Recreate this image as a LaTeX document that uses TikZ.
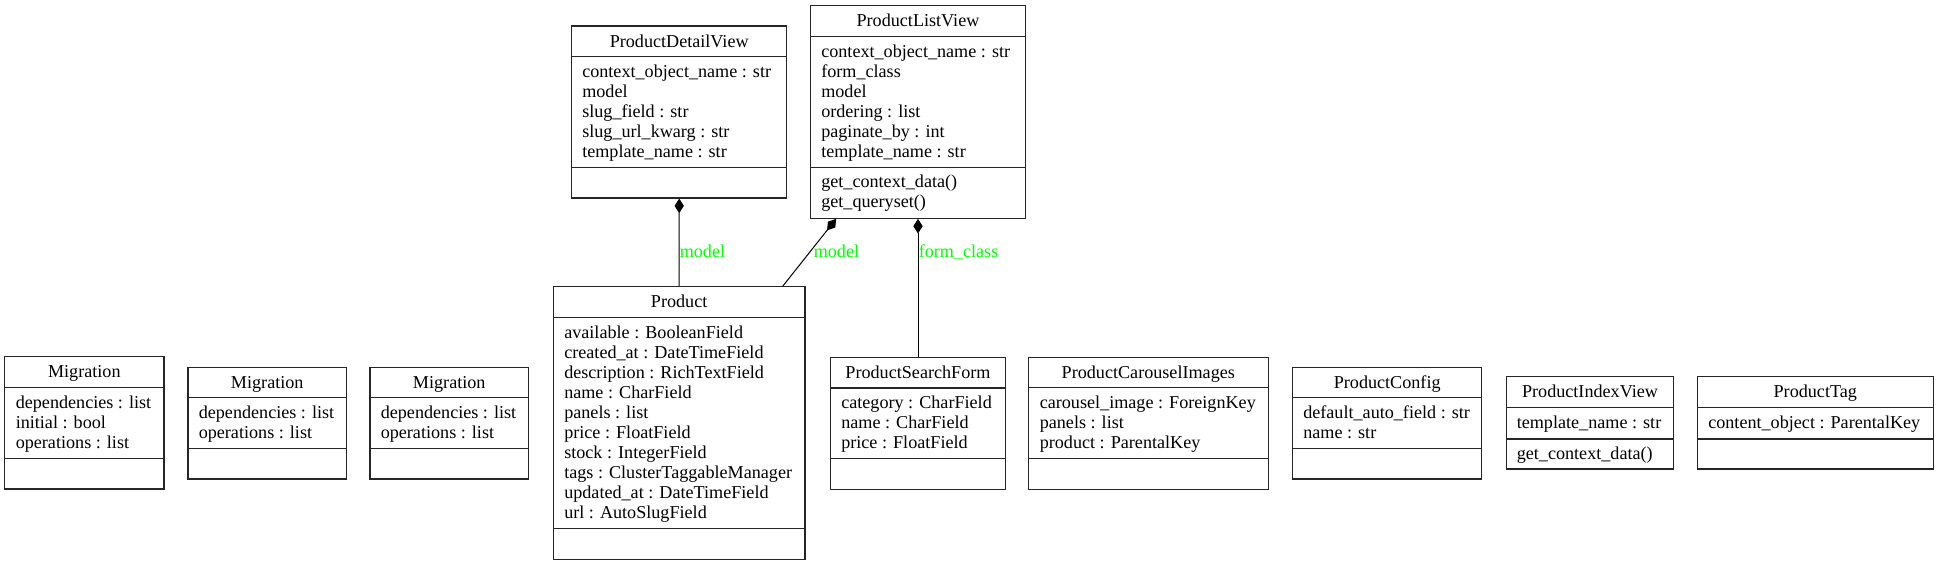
\documentclass[tikz,border=0pt]{standalone}
\usepackage{fontspec}
\setmainfont{Liberation Serif}
\usetikzlibrary{arrows.meta,calc}
\definecolor{lblgreen}{RGB}{0,255,0}
\tikzset{
  umlframe/.style={draw=black!85, line width=0.8pt, inner sep=0pt},
  umlsep/.style={draw=black!85, line width=0.8pt},
  umltext/.style={inner sep=0pt, font=\fontsize{13.6}{15}\selectfont, text=black},
  lbl/.style={inner sep=0pt, font=\fontsize{13.6}{15}\selectfont, text=lblgreen},
  comp/.style={line width=0.75pt, {Diamond[length=11pt,width=7pt]}-},
}
\newcommand{\umlbox}[8]{%
  \pgfmathsetmacro\bw{(#4-#2)*0.75}%
  \pgfmathsetmacro\bh{(#5-#3)*0.75}%
  \node[umlframe, minimum width=\bw pt, minimum height=\bh pt] (#1) at ({(#2+#4)/2},{(#3+#5)/2}) {};
  \draw[umlsep] (#2,#6) -- (#4,#6);
  \draw[umlsep] (#2,#7) -- (#4,#7);
  \node[umltext, anchor=base] (#1-title) at ({(#2+#4)/2},{#3+21}) {#8};
}
\newcommand{\umllines}[4]{%
  \foreach \t [count=\i] in {#4} {
    \node[umltext, anchor=base west] (#1\i) at (#2,{#3+20.5+20*(\i-1)}) {\t};
  }
}
\begin{document}
\begin{tikzpicture}[x=0.75pt,y=-0.75pt]
\useasboundingbox (0,0) rectangle (1939,565);

% ProductDetailView
\umlbox{pdv}{571.7}{26}{786.7}{198}{56.7}{167.3}{ProductDetailView}
\umllines{pdv-a}{582}{56.7}{context\_object\_name : str, model, slug\_field : str, slug\_url\_kwarg : str, template\_name : str}

% ProductListView
\umlbox{plv}{810.7}{5.7}{1025.3}{218.3}{36.7}{167.3}{ProductListView}
\umllines{plv-a}{821}{36.7}{context\_object\_name : str, form\_class, model, ordering : list, paginate\_by : int, template\_name : str}
\umllines{plv-m}{821}{167.3}{get\_context\_data(), get\_queryset()}

% Product
\umlbox{product}{553.3}{286.7}{805}{559.3}{317.7}{528.3}{Product}
\umllines{product-a}{564}{317.7}{available : BooleanField, created\_at : DateTimeField, description : RichTextField, name : CharField, panels : list, price : FloatField, stock : IntegerField, tags : ClusterTaggableManager, updated\_at : DateTimeField, url : AutoSlugField}

% ProductSearchForm
\umlbox{psf}{830.7}{357.3}{1005.3}{489.3}{388}{458.7}{ProductSearchForm}
\umllines{psf-a}{841}{388}{category : CharField, name : CharField, price : FloatField}

% Migrations
\umlbox{mig1}{4.7}{356.7}{164}{489}{387.7}{458.3}{Migration}
\umllines{mig1-a}{15.5}{387.7}{dependencies : list, initial : bool, operations : list}
\umlbox{mig2}{188}{367.3}{346.5}{479}{397.7}{448.3}{Migration}
\umllines{mig2-a}{198.5}{397.7}{dependencies : list, operations : list}
\umlbox{mig3}{370}{367.3}{528.5}{479}{397.7}{448.3}{Migration}
\umllines{mig3-a}{380.5}{397.7}{dependencies : list, operations : list}

% ProductCarouselImages
\umlbox{pci}{1028.3}{357.3}{1268.3}{489.3}{387.7}{458.3}{ProductCarouselImages}
\umllines{pci-a}{1039.5}{387.7}{carousel\_image : ForeignKey, panels : list, product : ParentalKey}

% ProductConfig
\umlbox{pc}{1292.7}{367.3}{1481.7}{479}{397.7}{448.3}{ProductConfig}
\umllines{pc-a}{1303}{397.7}{default\_auto\_field : str, name : str}

% ProductIndexView
\umlbox{piv}{1506.7}{376.7}{1673.3}{469}{407.7}{439}{ProductIndexView}
\umllines{piv-a}{1516.5}{407.7}{template\_name : str}
\umllines{piv-m}{1516.5}{439}{get\_context\_data()}

% ProductTag
\umlbox{pt}{1697.3}{376.7}{1933.3}{469}{407.7}{439}{ProductTag}
\umllines{pt-a}{1708}{407.7}{content\_object : ParentalKey}

% Connectors
\draw[comp] (pdv.south) -- (product.north);
\coordinate (plvm) at ($(plv.south west)+(26,0)$);
\coordinate (prodm) at ($(product.north west)+(230,0)$);
\draw[comp] (plvm) -- (prodm);
\draw[comp] (plv.south) -- (psf.north);

% Labels
\node[lbl, anchor=base west] (l1) at (679.5,257.3) {model};
\node[lbl, anchor=base west] (l2) at (813.5,257.3) {model};
\node[lbl, anchor=base west] (l3) at (918.5,257.3) {form\_class};
\end{tikzpicture}
\end{document}
